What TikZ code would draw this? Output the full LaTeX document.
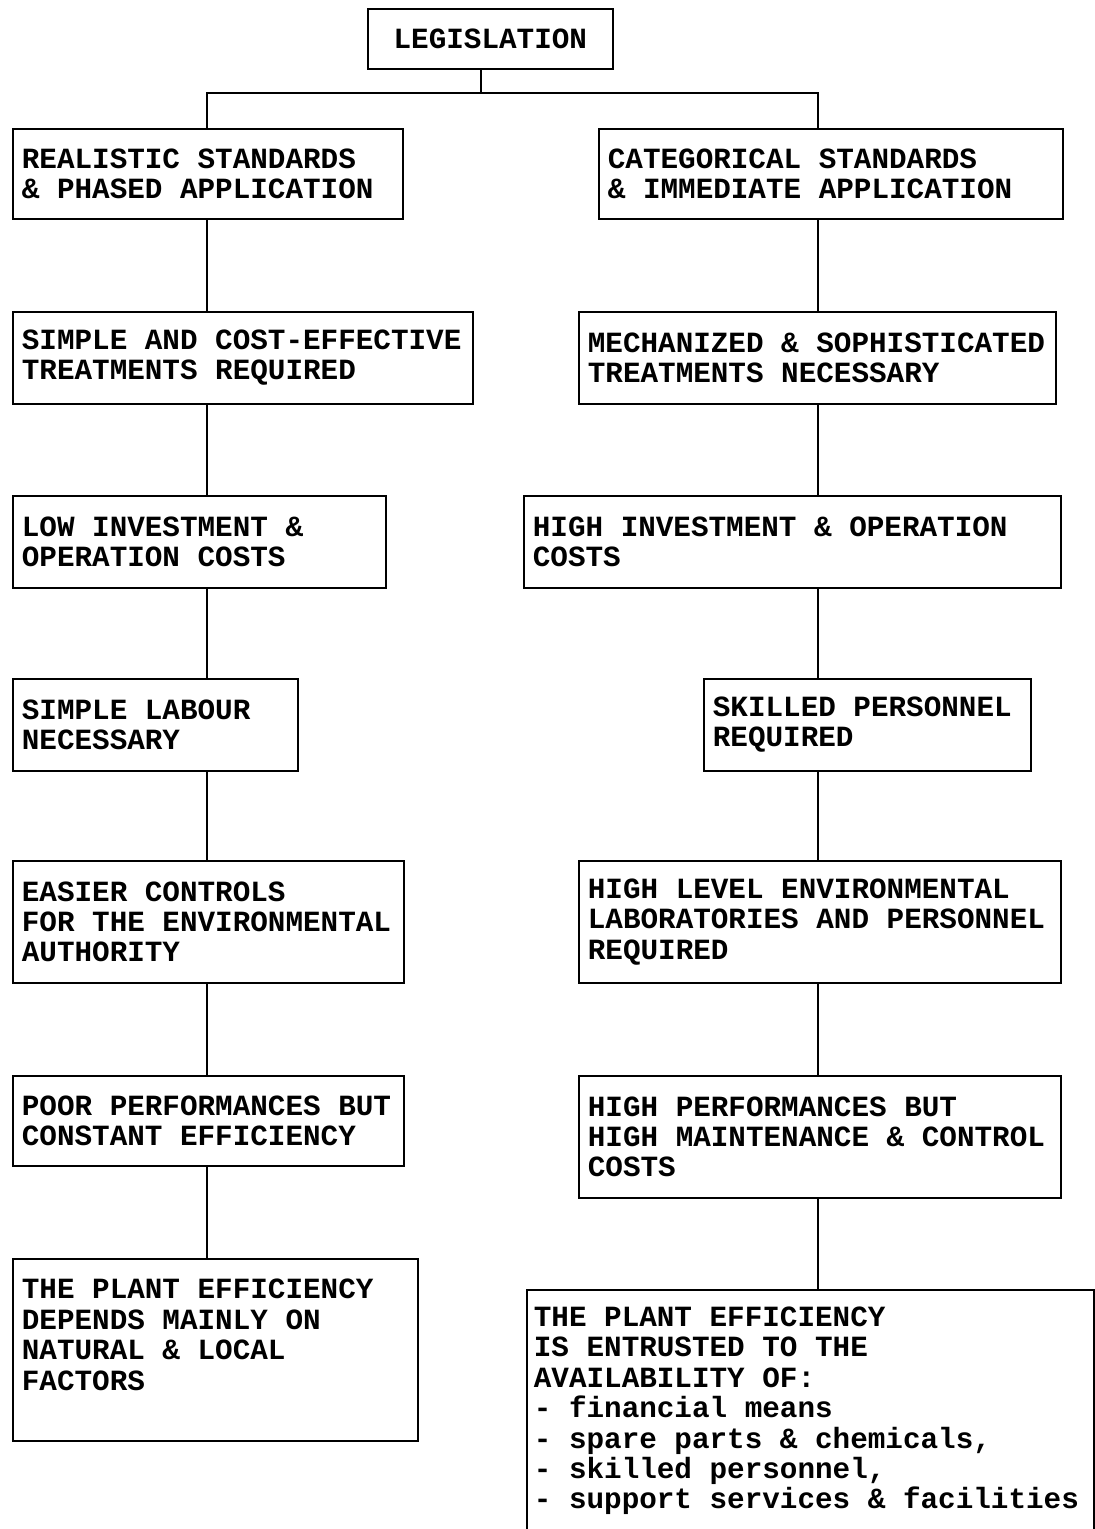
\documentclass[tikz,border=0pt]{standalone}
\usepackage{fontspec}
\setmonofont{Liberation Mono}
\newcommand\monofix{\spaceskip=0.6em plus 0pt minus 0pt\xspaceskip=0.6em plus 0pt minus 0pt\relax}
\begin{document}
\begin{tikzpicture}[x=1pt,y=-1pt,
  txt/.style={font=\ttfamily\bfseries\fontsize{29.3}{30.4}\selectfont\monofix},
  box/.style={txt,draw,line width=1.7pt,anchor=north west,align=left,inner xsep=9pt,inner ysep=0pt},
  conn/.style={line width=1.8pt}]
\useasboundingbox (0,0) rectangle (1095,1529);
\coordinate (lx) at (207,0);
\coordinate (rx) at (818,0);
\coordinate (stem) at (481,93);
% top
\node[box,minimum width=245pt,minimum height=60pt,text width=227pt,align=center] (leg) at (367,8) {LEGISLATION};
% left column
\node[box,minimum height=90pt,text width=372pt] (l1) at (12,128) {\monofix REALISTIC STANDARDS\\\& PHASED APPLICATION};
\node[box,minimum height=92pt,text width=442pt] (l2) at (12,311) {\monofix SIMPLE AND COST-EFFECTIVE\\TREATMENTS REQUIRED};
\node[box,minimum height=92pt,text width=355pt] (l3) at (12,495) {\monofix LOW INVESTMENT \&\\OPERATION COSTS};
\node[box,minimum height=92pt,text width=267pt] (l4) at (12,678) {\monofix SIMPLE LABOUR\\NECESSARY};
\node[box,minimum height=122pt,text width=373pt] (l5) at (12,860) {\monofix EASIER CONTROLS\\FOR THE ENVIRONMENTAL\\AUTHORITY};
\node[box,minimum height=90pt,text width=373pt] (l6) at (12,1075) {\monofix POOR PERFORMANCES BUT\\CONSTANT EFFICIENCY};
\node[box,minimum height=182pt,text width=387pt] (l7) at (12,1258) {\monofix THE PLANT EFFICIENCY\\DEPENDS MAINLY ON\\NATURAL \& LOCAL\\FACTORS\\\mbox{}};
% right column
\node[box,minimum height=90pt,text width=446pt] (r1) at (598,128) {\monofix CATEGORICAL STANDARDS\\\& IMMEDIATE APPLICATION};
\node[box,minimum height=92pt,text width=459pt] (r2) at (578,311) {\monofix MECHANIZED \& SOPHISTICATED\\TREATMENTS NECESSARY};
\node[box,minimum height=92pt,text width=519pt] (r3) at (523,495) {\monofix HIGH INVESTMENT \& OPERATION\\COSTS};
\node[box,minimum height=92pt,text width=309pt] (r4) at (703,678) {\monofix SKILLED PERSONNEL\\REQUIRED};
\node[box,minimum height=122pt,text width=464pt] (r5) at (578,860) {\monofix HIGH LEVEL ENVIRONMENTAL\\LABORATORIES AND PERSONNEL\\REQUIRED};
\node[box,minimum height=122pt,text width=464pt] (r6) at (578,1075) {\monofix HIGH PERFORMANCES BUT\\HIGH MAINTENANCE \& CONTROL\\COSTS};
\node[box,draw=none,inner xsep=6pt,minimum height=240pt,text width=553pt] (r7) at (527,1290) {\monofix THE PLANT EFFICIENCY\\IS ENTRUSTED TO THE\\AVAILABILITY OF:\\- financial means\\- spare parts \& chemicals,\\- skilled personnel,\\- support services \& facilities};
\draw[line width=1.7pt] (r7.south west) -- (r7.north west) -- (r7.north east) -- (r7.south east);
% connectors
\draw[conn] (leg.south -| stem) -- (stem);
\draw[conn] (l1.north -| lx) -- (stem -| lx) -- (stem -| rx) -- (r1.north -| rx);
\draw[conn] (l1.south -| lx) -- (l2.north -| lx);
\draw[conn] (l2.south -| lx) -- (l3.north -| lx);
\draw[conn] (l3.south -| lx) -- (l4.north -| lx);
\draw[conn] (l4.south -| lx) -- (l5.north -| lx);
\draw[conn] (l5.south -| lx) -- (l6.north -| lx);
\draw[conn] (l6.south -| lx) -- (l7.north -| lx);
\draw[conn] (r1.south -| rx) -- (r2.north -| rx);
\draw[conn] (r2.south -| rx) -- (r3.north -| rx);
\draw[conn] (r3.south -| rx) -- (r4.north -| rx);
\draw[conn] (r4.south -| rx) -- (r5.north -| rx);
\draw[conn] (r5.south -| rx) -- (r6.north -| rx);
\draw[conn] (r6.south -| rx) -- (r7.north -| rx);
\end{tikzpicture}
\end{document}
